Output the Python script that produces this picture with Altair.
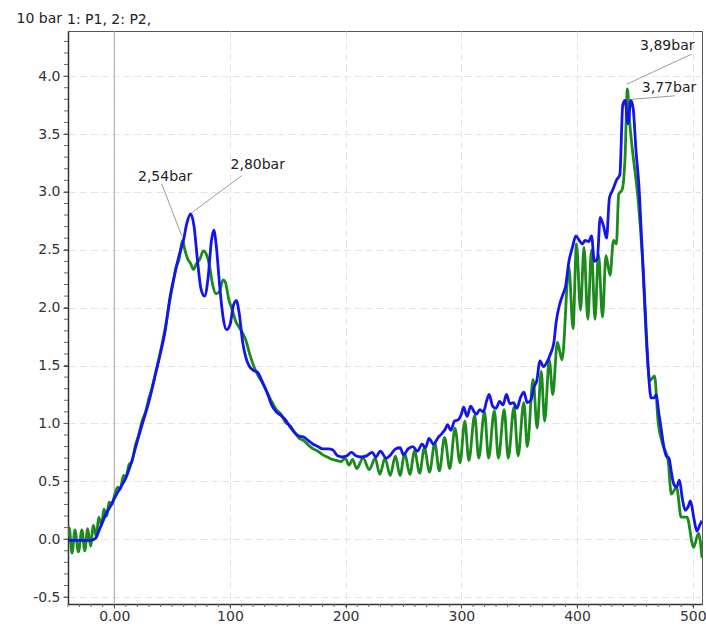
import altair as alt
import pandas as pd

FONT = "DejaVu Sans"

# ---- series P1 (green) ----
green_x = [-40, -39, -36.5, -34, -31, -28, -25.5, -23, -20.5, -18, -15.5, -13.5, -11, -9, -6.5, -4.5, -2,
           0, 3, 5, 8, 10, 13, 15, 18, 21, 24, 27, 30, 33, 36, 39, 42, 45, 48, 51, 53.5, 56, 59, 61, 63.5,
           66, 68.5, 71, 74, 77, 80, 82.5, 85, 88, 91, 94, 96, 99, 102, 105, 108, 111, 114, 117, 120, 124,
           128, 132, 136, 140, 144, 148, 152, 156, 160, 164, 168, 172, 176, 180, 184, 188, 192, 196, 199.5,
           203, 206, 209.5, 215, 220.5, 225.5, 229.5, 234, 238.5, 243, 247, 251, 255.5, 259.5, 264, 268,
           272.5, 277, 281, 285.5, 290, 294.5, 298.8, 303, 306.5, 311.5, 315, 320, 323.5, 328.5, 332, 337,
           340.5, 345.5, 349, 354, 357, 362, 365.5, 369, 372, 376, 379, 383, 387, 393, 396.5, 399.5, 403,
           406, 409.3, 412.5, 415.5, 418.5, 422, 425, 428.5, 431.5, 434, 436, 439, 441.5, 443.5, 445.5,
           448, 451, 453.5, 456.6, 459, 461, 463, 467, 470, 474, 478.7, 481.5, 486, 490, 495, 500.7, 505, 508]
green_y = [0.02, 0.10, -0.12, 0.08, -0.11, 0.08, -0.10, 0.09, -0.06, 0.12, 0.02, 0.19, 0.12, 0.26, 0.20, 0.32, 0.30,
           0.37, 0.45, 0.43, 0.55, 0.54, 0.65, 0.66, 0.80, 0.90, 1.02, 1.10, 1.22, 1.32, 1.45, 1.58, 1.72, 1.88, 2.06, 2.22, 2.35, 2.42, 2.58, 2.50, 2.42,
           2.38, 2.33, 2.38, 2.42, 2.49, 2.45, 2.35, 2.20, 2.12, 2.14, 2.24, 2.22, 2.07, 1.98, 1.88, 1.83, 1.78, 1.71, 1.60, 1.51, 1.42,
           1.35, 1.27, 1.19, 1.12, 1.08, 1.01, 0.98, 0.92, 0.87, 0.85, 0.81, 0.78, 0.76, 0.73, 0.71, 0.69, 0.68, 0.67, 0.70,
           0.64, 0.69, 0.61, 0.70, 0.60, 0.70, 0.56, 0.70, 0.55, 0.72, 0.55, 0.74, 0.56, 0.76, 0.57, 0.79,
           0.58, 0.83, 0.59, 0.88, 0.61, 0.96, 0.66, 1.02, 0.68, 1.07, 0.70, 1.10, 0.70, 1.11, 0.70, 1.12,
           0.70, 1.14, 0.72, 1.18, 0.80, 1.38, 0.96, 1.45, 1.02, 1.55, 1.25, 1.70, 1.55, 2.35, 1.82, 2.55, 1.98,
           2.52, 1.90, 2.50, 1.90, 2.46, 1.92, 2.45, 2.28, 2.58, 2.55, 2.98, 3.02, 3.30, 3.89, 3.60,
           3.35, 3.10, 2.85, 2.41, 1.90, 1.54, 1.37, 1.41, 1.02, 0.82, 0.68, 0.39, 0.45, 0.19, 0.19, -0.07, 0.05, -0.16]

# ---- series P2 (blue) ----
blue_x = [-40, -30, -20, -16, -13, -10, -7, -3, 0, 5, 10, 15, 20, 25, 30, 35, 40, 44, 48, 52, 56, 59.5, 63, 66,
          69, 72, 75, 78, 81, 84, 86, 88, 91, 94, 97, 100, 103, 105.5, 108, 111, 114, 117, 120, 124, 128, 132,
          136, 140, 144, 148, 152, 156, 160, 164, 168, 172, 176, 180, 185, 189, 193, 197, 201, 205, 209, 213,
          218, 223, 226, 230, 235, 239, 243, 247, 250, 254, 258, 262, 266, 269, 272, 276, 280, 283, 286, 288,
          291, 294, 297, 300, 302, 305, 308, 311, 313, 316, 319, 322, 324, 327, 330, 333, 336, 339, 342, 345,
          348, 351, 354, 357, 360, 363, 365, 368, 371, 374, 377, 380, 382, 385, 388, 390, 393, 396, 399, 402,
          404.5, 407, 410, 412.5, 415, 417.5, 420, 423, 425.5, 428, 431, 434, 437, 439.5, 441.5, 444, 446.5,
          448.5, 451, 453.5, 456, 458, 460, 462, 464, 466.5, 468.5, 470.5, 472.5, 475, 477, 479.5, 481.5,
          483.5, 486, 488.5, 491, 493.5, 496, 498, 501, 503.5, 506, 508]
blue_y = [-0.01, -0.01, -0.01, 0.01, 0.08, 0.15, 0.22, 0.29, 0.35, 0.44, 0.53, 0.67, 0.85, 1.02, 1.19, 1.40, 1.61, 1.80, 2.08, 2.28, 2.45, 2.57, 2.74, 2.81,
          2.70, 2.40, 2.16, 2.10, 2.25, 2.58, 2.67, 2.55, 2.20, 1.92, 1.81, 1.85, 2.02, 2.06, 1.95, 1.70, 1.56, 1.49, 1.46, 1.44, 1.36, 1.27,
          1.16, 1.10, 1.07, 1.03, 0.97, 0.92, 0.89, 0.88, 0.85, 0.82, 0.80, 0.78, 0.78, 0.77, 0.72, 0.71, 0.72, 0.75, 0.72, 0.71,
          0.72, 0.75, 0.71, 0.76, 0.70, 0.73, 0.78, 0.79, 0.73, 0.78, 0.80, 0.76, 0.82, 0.79, 0.87, 0.82, 0.88, 0.91, 0.95, 0.99,
          0.94, 1.02, 1.03, 1.08, 1.14, 1.06, 1.15, 1.10, 1.08, 1.12, 1.10, 1.20, 1.25, 1.15, 1.13, 1.19, 1.16, 1.25, 1.17, 1.18,
          1.13, 1.22, 1.27, 1.18, 1.20, 1.32, 1.36, 1.54, 1.49, 1.53, 1.60, 1.70, 1.88, 2.03, 2.12, 2.18, 2.40, 2.52, 2.62, 2.58,
          2.55, 2.58, 2.57, 2.62, 2.40, 2.42, 2.78, 2.70, 2.60, 2.95, 3.02, 3.10, 3.15, 3.75, 3.79, 3.59, 3.79,
          3.72, 3.35, 3.05, 2.55, 2.17, 1.75, 1.40, 1.22, 1.22, 1.25, 1.10, 0.97, 0.80, 0.72, 0.70, 0.58,
          0.48, 0.45, 0.51, 0.35, 0.25, 0.28, 0.33, 0.18, 0.07, 0.12, 0.16]

# ---- annotations ----
ann_text = ["2,54bar", "2,80bar", "3,89bar", "3,77bar"]
ann_x = [44, 124, 478, 479.5]
ann_y = [3.13, 3.23, 4.26, 3.90]
lead_x1 = [41.0, 110.1, 499.0, 484.5]
lead_y1 = [3.07, 3.14, 4.19, 3.83]
lead_x2 = [58.3, 66.9, 442.9, 447.1]
lead_y2 = [2.62, 2.82, 3.93, 3.80]

x_ticks = [0, 100, 200, 300, 400, 500]
y_ticks = [-0.5, 0.0, 0.5, 1.0, 1.5, 2.0, 2.5, 3.0, 3.5, 4.0]
x_minor = list(range(-40, 510, 10))
y_minor = [round(-0.5 + 0.1 * i, 1) for i in range(49)]

XDOM = [-40, 508]
YDOM = [-0.56, 4.39]
xs = alt.Scale(domain=XDOM, nice=False, zero=False)
ys = alt.Scale(domain=YDOM, nice=False, zero=False)

GRID = "#e2e2f0"
x_axis = alt.Axis(values=x_ticks, title=None, labelExpr="datum.value == 0 ? '0.00' : datum.label",
                  grid=True, gridColor=GRID, gridDash=[7, 4], gridWidth=1,
                  tickSize=4, labelPadding=1, labelFontSize=14, labelFont=FONT, labelColor="#333",
                  domainColor="#333", domainWidth=1.5, tickColor="#555")
y_axis = alt.Axis(values=y_ticks, title=None, format=".1f",
                  labelExpr="replace(datum.label, '\u2212', '-')",
                  grid=True, gridColor=GRID, gridDash=[7, 4], gridWidth=1,
                  tickSize=5, labelPadding=3, labelFontSize=14, labelFont=FONT, labelColor="#333",
                  domainColor="#333", domainWidth=1.5, tickColor="#555")


def X(field):
    return alt.X(field, scale=xs, axis=x_axis)


def Y(field):
    return alt.Y(field, scale=ys, axis=y_axis)


gdf = pd.DataFrame({"x": green_x, "y": green_y})
bdf = pd.DataFrame({"x": blue_x, "y": blue_y})

green = alt.Chart(gdf).mark_line(color="#1c8a1c", strokeWidth=2.8, interpolate="monotone", clip=True).encode(
    x=X("x:Q"), y=Y("y:Q"), order="x:Q",
)
blue = alt.Chart(bdf).mark_line(color="#1414ee", strokeWidth=2.8, interpolate="monotone", clip=True).encode(
    x=X("x:Q"), y=Y("y:Q"), order="x:Q",
)

zero_line = alt.Chart(pd.DataFrame({"x": [0]})).mark_rule(color="#a8a8a8", strokeWidth=1).encode(
    x=X("x:Q"), y=alt.value(0), y2=alt.value(573),
)

lead_df = pd.DataFrame({"x1": lead_x1, "y1": lead_y1, "x2": lead_x2, "y2": lead_y2})
leaders = alt.Chart(lead_df).mark_rule(color="#9a9a9a", strokeWidth=1).encode(
    x=X("x1:Q"), x2="x2:Q", y=Y("y1:Q"), y2="y2:Q",
)

ann_df = pd.DataFrame({"t": ann_text, "x": ann_x, "y": ann_y})
labels = alt.Chart(ann_df).mark_text(font=FONT, fontSize=14, color="#222", baseline="middle", align="center").encode(
    x=X("x:Q"), y=Y("y:Q"), text="t:N",
)

ymin_df = pd.DataFrame({"v": y_minor})
y_minor_ticks = alt.Chart(ymin_df).mark_rule(color="#666", strokeWidth=1).encode(
    y=Y("v:Q"), x=alt.value(-4), x2=alt.value(0),
)
xmin_df = pd.DataFrame({"v": x_minor})
x_minor_ticks = alt.Chart(xmin_df).mark_rule(color="#666", strokeWidth=1).encode(
    x=X("v:Q"), y=alt.value(573), y2=alt.value(576),
)

title1 = alt.Chart(pd.DataFrame({"t": ["1: P1, 2: P2,"]})).mark_text(
    font=FONT, fontSize=14, color="#222", align="left", baseline="middle").encode(
    x=alt.value(-1), y=alt.value(-11), text="t:N")
title2 = alt.Chart(pd.DataFrame({"t": ["10 bar"]})).mark_text(
    font=FONT, fontSize=14, color="#222", align="right", baseline="middle").encode(
    x=alt.value(-6), y=alt.value(-12), text="t:N")

chart = alt.layer(zero_line, green, blue, leaders, labels, y_minor_ticks, x_minor_ticks, title1, title2).properties(
    width=634, height=573,
    padding={"left": 68, "top": 31, "right": 4, "bottom": 22},
    autosize=alt.AutoSizeParams(type="none"),
    background="white",
).configure_view(stroke="#555", strokeWidth=1)

chart.save("out.html", embed_options={"renderer": "svg", "actions": False})
